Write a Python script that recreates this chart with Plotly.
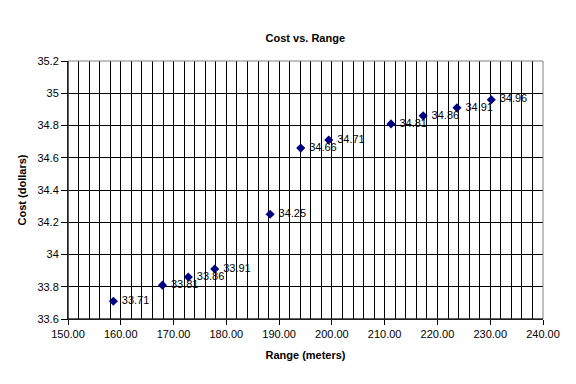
import plotly.graph_objects as go

range_m = [158.6, 167.9, 172.8, 177.8, 188.3, 194.1, 199.4, 211.2, 217.3, 223.7, 230.2]
cost = [33.71, 33.81, 33.86, 33.91, 34.25, 34.66, 34.71, 34.81, 34.86, 34.91, 34.96]
labels = ["33.71", "33.81", "33.86", "33.91", "34.25", "34.66", "34.71", "34.81", "34.86", "34.91", "34.96"]

x_ticks = [150, 160, 170, 180, 190, 200, 210, 220, 230, 240]
x_ticktext = ["150.00", "160.00", "170.00", "180.00", "190.00", "200.00", "210.00", "220.00", "230.00", "240.00"]
y_ticks = [33.6, 33.8, 34.0, 34.2, 34.4, 34.6, 34.8, 35.0, 35.2]
y_ticktext = ["33.6", "33.8", "34", "34.2", "34.4", "34.6", "34.8", "35", "35.2"]

FONT = "Liberation Sans, Arial, sans-serif"

fig = go.Figure()
fig.add_trace(go.Scatter(
    x=range_m, y=cost, mode="markers+text",
    text=[" " + t for t in labels], textposition="middle right",
    textfont=dict(family=FONT, size=11, color="black"),
    marker=dict(symbol="diamond", size=7, color="#000080"),
    cliponaxis=False,
))

fig.update_layout(
    width=576, height=384,
    margin=dict(l=68, r=33, t=61, b=65),
    paper_bgcolor="white", plot_bgcolor="white",
    showlegend=False,
    font=dict(family=FONT, size=11, color="black"),
    title=dict(text="<b>Cost vs. Range</b>", x=0.53, xanchor="center", y=0.9, yanchor="middle",
               font=dict(family=FONT, size=11, color="black")),
    xaxis=dict(
        range=[150, 240], tickvals=x_ticks, ticktext=x_ticktext,
        showgrid=True, gridcolor="black", gridwidth=1,
        minor=dict(dtick=2, tick0=150, showgrid=True, gridcolor="black", gridwidth=1, ticks=""),
        ticks="outside", ticklen=5, tickcolor="black",
        showline=True, linecolor="black", mirror=False, zeroline=False,
        title=dict(text="<b>Range (meters)</b>", font=dict(family=FONT, size=11), standoff=12),
        tickfont=dict(family=FONT, size=11),
    ),
    yaxis=dict(
        range=[33.6, 35.2], tickvals=y_ticks, ticktext=y_ticktext,
        showgrid=True, gridcolor="black", gridwidth=1,
        ticks="outside", ticklen=6, tickcolor="black",
        showline=True, linecolor="black", zeroline=False,
        title=dict(text="<b>Cost (dollars)</b>", font=dict(family=FONT, size=11), standoff=8),
        tickfont=dict(family=FONT, size=11),
    ),
)

fig.add_shape(type="rect", xref="paper", yref="paper", x0=0, y0=0, x1=1, y1=1,
              line=dict(color="#808080", width=1), layer="above")
fig.add_shape(type="line", xref="paper", yref="paper", x0=0, y0=0, x1=0, y1=1,
              line=dict(color="black", width=1), layer="above")
fig.add_shape(type="line", xref="paper", yref="paper", x0=0, y0=0, x1=1, y1=0,
              line=dict(color="black", width=1), layer="above")

fig.write_html("out.html")
